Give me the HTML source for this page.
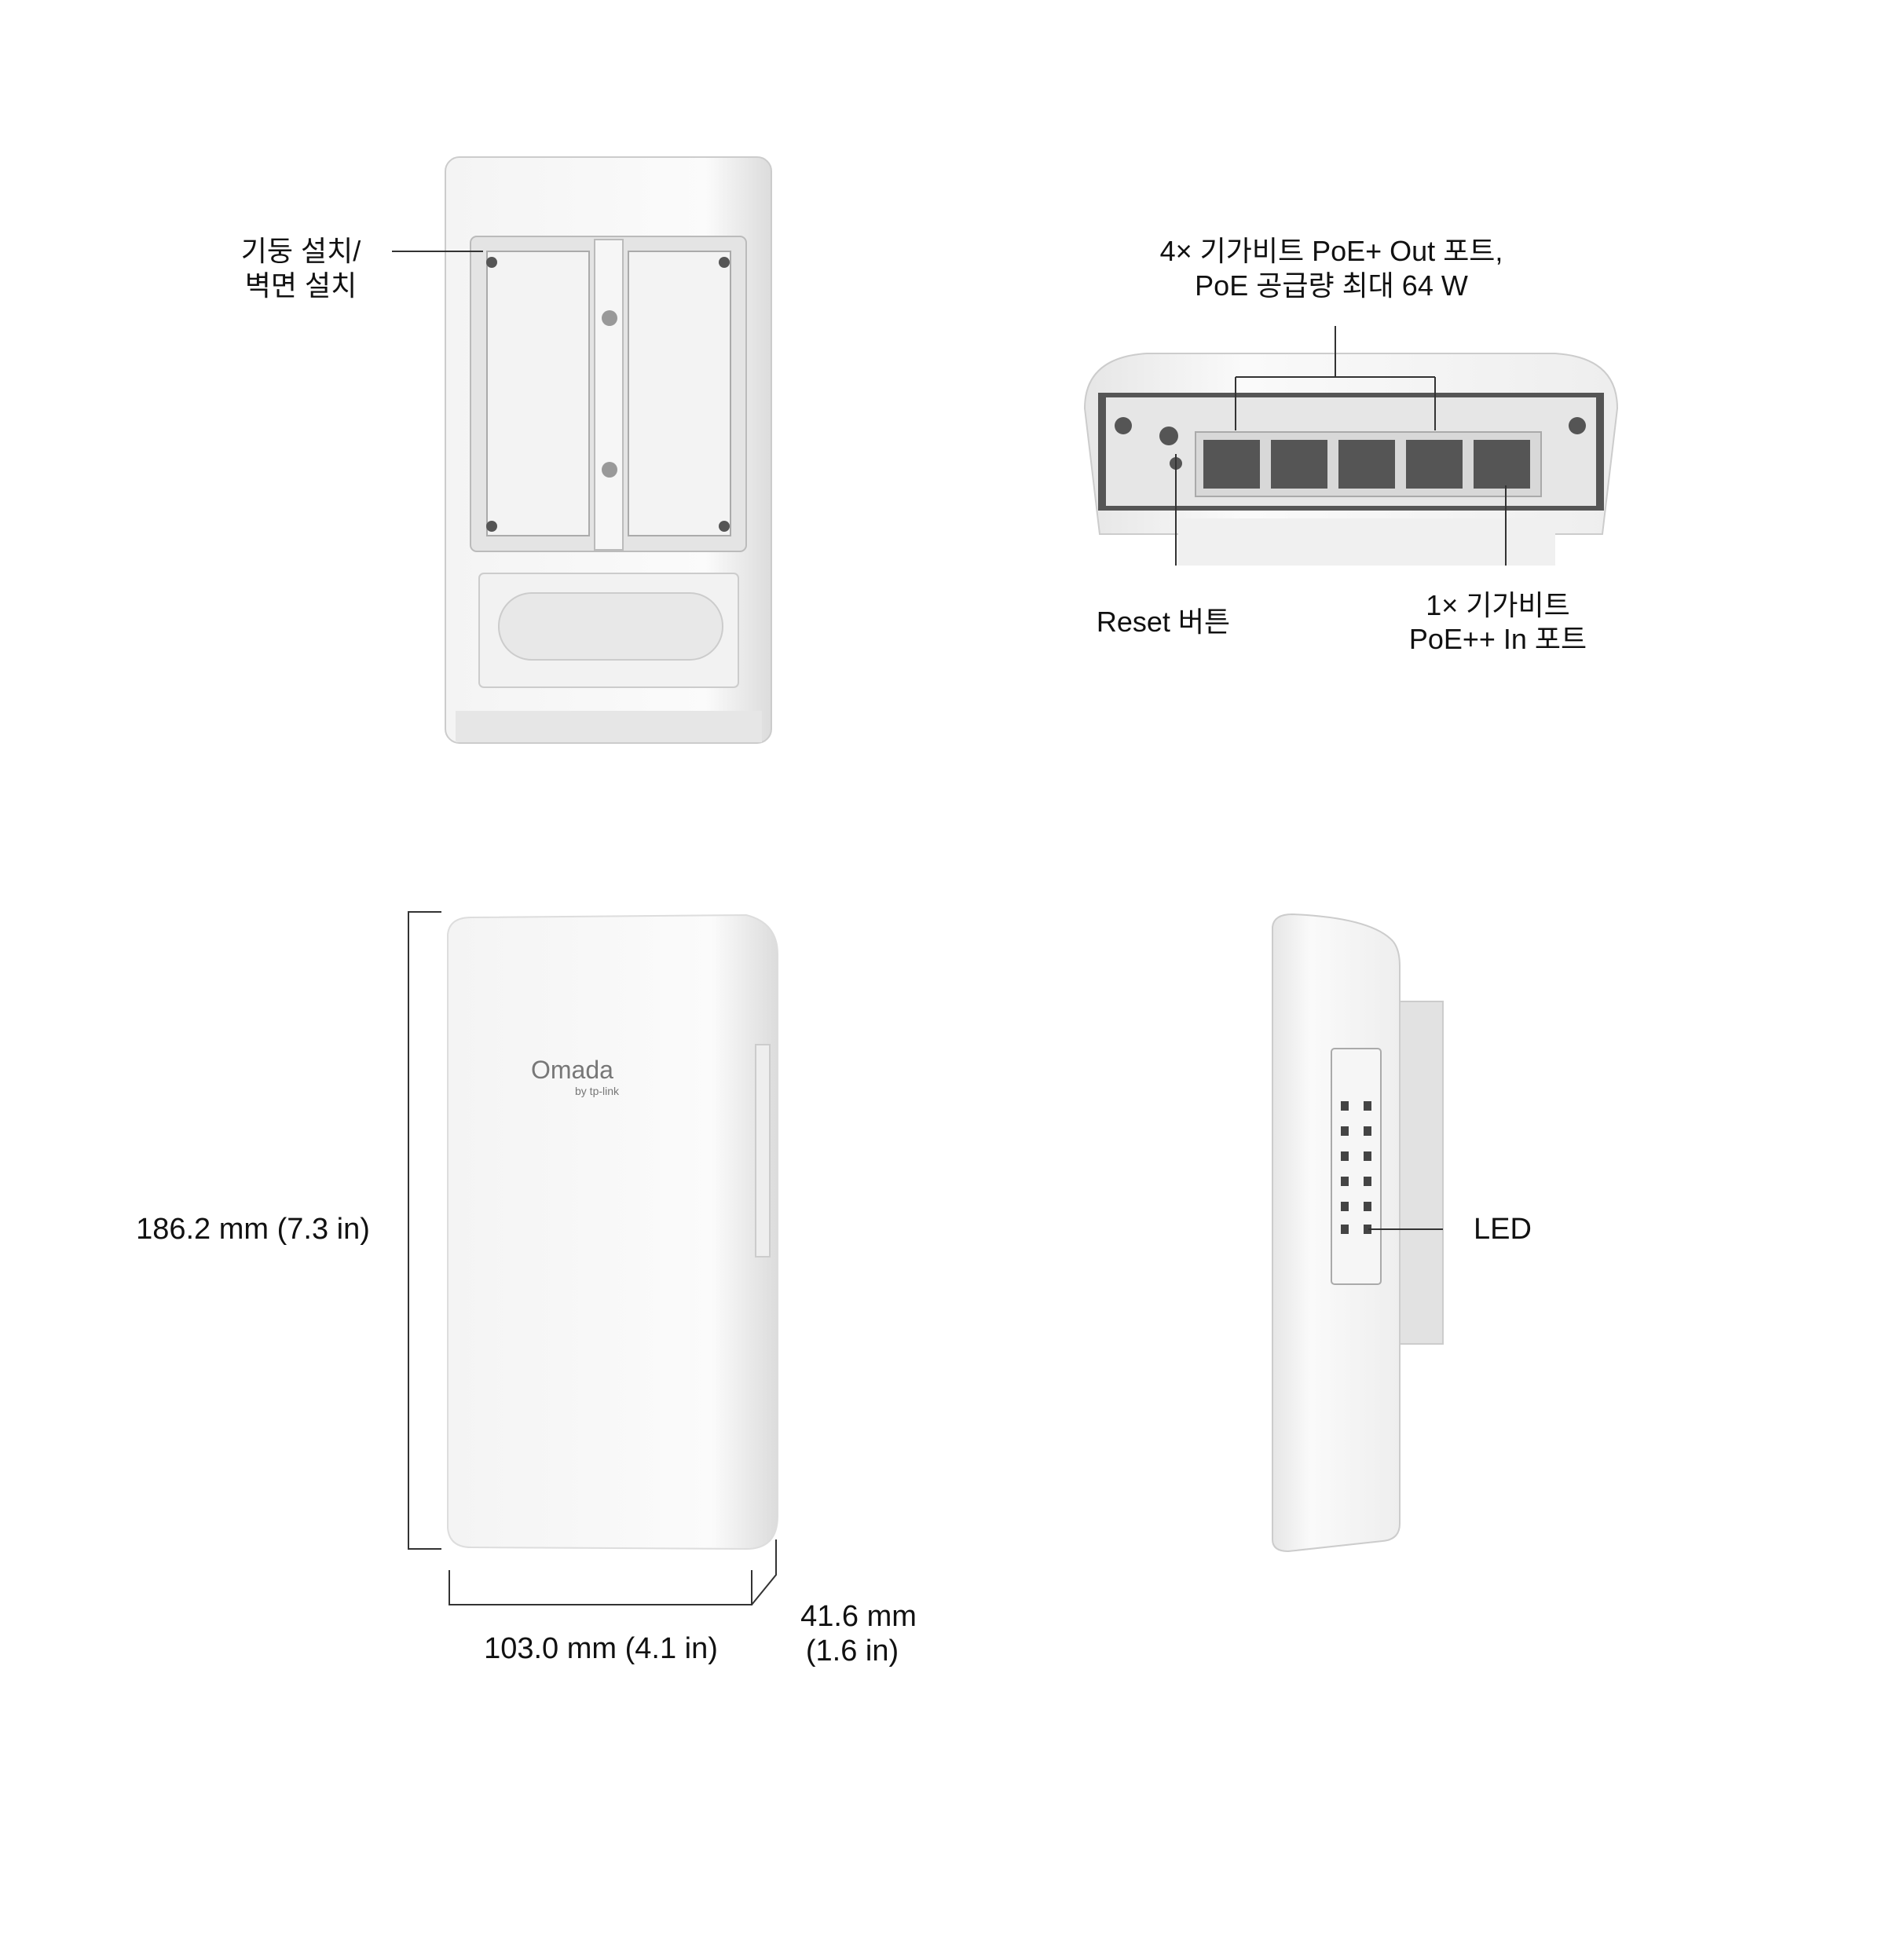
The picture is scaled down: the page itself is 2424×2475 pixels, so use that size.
<!DOCTYPE html>
<html><head><meta charset="utf-8"><style>
html,body{margin:0;padding:0;background:#fff;}
svg{display:block;}
text{font-family:"Liberation Sans","Noto Sans CJK KR",sans-serif;font-size:36px;fill:#111;}
</style></head><body>
<svg width="2424" height="2475" viewBox="0 0 2424 2475" xmlns="http://www.w3.org/2000/svg">
<defs>
<linearGradient id="g1" x1="0" x2="1"><stop offset="0" stop-color="#f4f4f4"/><stop offset="0.8" stop-color="#fbfbfb"/><stop offset="1" stop-color="#dcdcdc"/></linearGradient>
<linearGradient id="g2" x1="0" x2="1"><stop offset="0" stop-color="#e6e6e6"/><stop offset="0.3" stop-color="#fafafa"/><stop offset="1" stop-color="#eeeeee"/></linearGradient>
</defs>
<g stroke="#333" stroke-width="2" fill="none">
<rect x="567" y="200" width="415" height="746" rx="18" fill="url(#g1)" stroke="#ccc"/>
<rect x="599" y="301" width="351" height="401" rx="8" fill="#e4e4e4" stroke="#bbb"/>
<rect x="620" y="320" width="130" height="362" fill="#f3f3f3" stroke="#aaa"/>
<rect x="800" y="320" width="130" height="362" fill="#f3f3f3" stroke="#aaa"/>
<rect x="757" y="305" width="36" height="395" fill="#f6f6f6" stroke="#bbb"/>
<circle cx="626" cy="334" r="7" fill="#555" stroke="none"/><circle cx="922" cy="334" r="7" fill="#555" stroke="none"/>
<circle cx="626" cy="670" r="7" fill="#555" stroke="none"/><circle cx="922" cy="670" r="7" fill="#555" stroke="none"/>
<circle cx="776" cy="405" r="10" fill="#999" stroke="none"/><circle cx="776" cy="598" r="10" fill="#999" stroke="none"/>
<rect x="610" y="730" width="330" height="145" rx="6" fill="#f2f2f2" stroke="#ccc"/>
<rect x="635" y="755" width="285" height="85" rx="42" fill="#e8e8e8" stroke="#ccc"/>
<rect x="580" y="905" width="390" height="40" fill="#e6e6e6" stroke="none"/>
<path d="M1381 520 Q1381 455 1460 450 L1980 450 Q2059 455 2059 520 L2040 680 L1400 680 Z" fill="url(#g2)" stroke="#ccc"/>
<rect x="1398" y="500" width="644" height="150" fill="#555" stroke="none"/>
<rect x="1408" y="506" width="624" height="138" fill="#e6e6e6" stroke="none"/>
<rect x="1522" y="550" width="440" height="82" fill="#d8d8d8" stroke="#aaa"/>
<g fill="#555" stroke="none">
<rect x="1532" y="560" width="72" height="62"/><rect x="1618" y="560" width="72" height="62"/><rect x="1704" y="560" width="72" height="62"/><rect x="1790" y="560" width="72" height="62"/><rect x="1876" y="560" width="72" height="62"/>
<circle cx="1430" cy="542" r="11"/><circle cx="2008" cy="542" r="11"/><circle cx="1497" cy="590" r="8"/><circle cx="1488" cy="555" r="12"/>
</g>
<rect x="1500" y="660" width="480" height="60" fill="#f0f0f0" stroke="none"/>
<path d="M570 1190 Q572 1168 600 1168 L950 1165 Q990 1175 990 1215 L990 1930 Q990 1972 950 1972 L600 1970 Q572 1970 570 1945 Z" fill="url(#g1)" stroke="#ddd"/>
<rect x="962" y="1330" width="18" height="270" fill="#eee" stroke="#ccc"/>
<rect x="1782" y="1275" width="55" height="436" fill="#e2e2e2" stroke="#ccc"/>
<path d="M1620 1180 Q1622 1164 1645 1164 Q1740 1168 1770 1195 Q1782 1205 1782 1230 L1782 1940 Q1782 1960 1760 1962 L1640 1975 Q1620 1975 1620 1960 Z" fill="url(#g2)" stroke="#ccc"/>
<rect x="1695" y="1335" width="63" height="300" rx="4" fill="#f6f6f6" stroke="#aaa"/>
<g fill="#444" stroke="none">
<rect x="1707" y="1402" width="10" height="12"/><rect x="1736" y="1402" width="10" height="12"/>
<rect x="1707" y="1434" width="10" height="12"/><rect x="1736" y="1434" width="10" height="12"/>
<rect x="1707" y="1466" width="10" height="12"/><rect x="1736" y="1466" width="10" height="12"/>
<rect x="1707" y="1498" width="10" height="12"/><rect x="1736" y="1498" width="10" height="12"/>
<rect x="1707" y="1530" width="10" height="12"/><rect x="1736" y="1530" width="10" height="12"/>
<rect x="1707" y="1559" width="10" height="12"/><rect x="1736" y="1559" width="10" height="12"/>
</g>
<path d="M499 320 L615 320"/>
<path d="M1700 415 L1700 480 M1573 480 L1827 480 M1573 480 L1573 548 M1827 480 L1827 548"/>
<path d="M1497 578 L1497 720"/>
<path d="M1917 618 L1917 720"/>
<path d="M1742 1565 L1837 1565"/>
<path d="M562 1161 L520 1161 L520 1972 L562 1972"/>
<path d="M572 1999 L572 2043 L957 2043 L957 1999"/>
<path d="M957 2043 L988 2005 L988 1960"/>
</g>
<text x="383" y="332" text-anchor="middle">기둥 설치/</text>
<text x="383" y="376" text-anchor="middle">벽면 설치</text>
<text x="1695" y="332" text-anchor="middle">4× 기가비트 PoE+ Out 포트,</text>
<text x="1695" y="376" text-anchor="middle">PoE 공급량 최대 64 W</text>
<text x="1481" y="804" text-anchor="middle">Reset 버튼</text>
<text x="1907" y="783" text-anchor="middle">1× 기가비트</text>
<text x="1907" y="826" text-anchor="middle">PoE++ In 포트</text>
<text x="676" y="1373" style="fill:#777;font-size:32px">Omada</text>
<text x="732" y="1394" style="fill:#777;font-size:14px">by tp-link</text>
<text x="322" y="1577" text-anchor="middle" style="font-size:38px">186.2 mm (7.3 in)</text>
<text x="765" y="2111" text-anchor="middle" style="font-size:38px">103.0 mm (4.1 in)</text>
<text x="1093" y="2070" text-anchor="middle" style="font-size:38px">41.6 mm</text>
<text x="1085" y="2114" text-anchor="middle" style="font-size:38px">(1.6 in)</text>
<text x="1876" y="1577" style="font-size:38px">LED</text>
</svg>
</body></html>
